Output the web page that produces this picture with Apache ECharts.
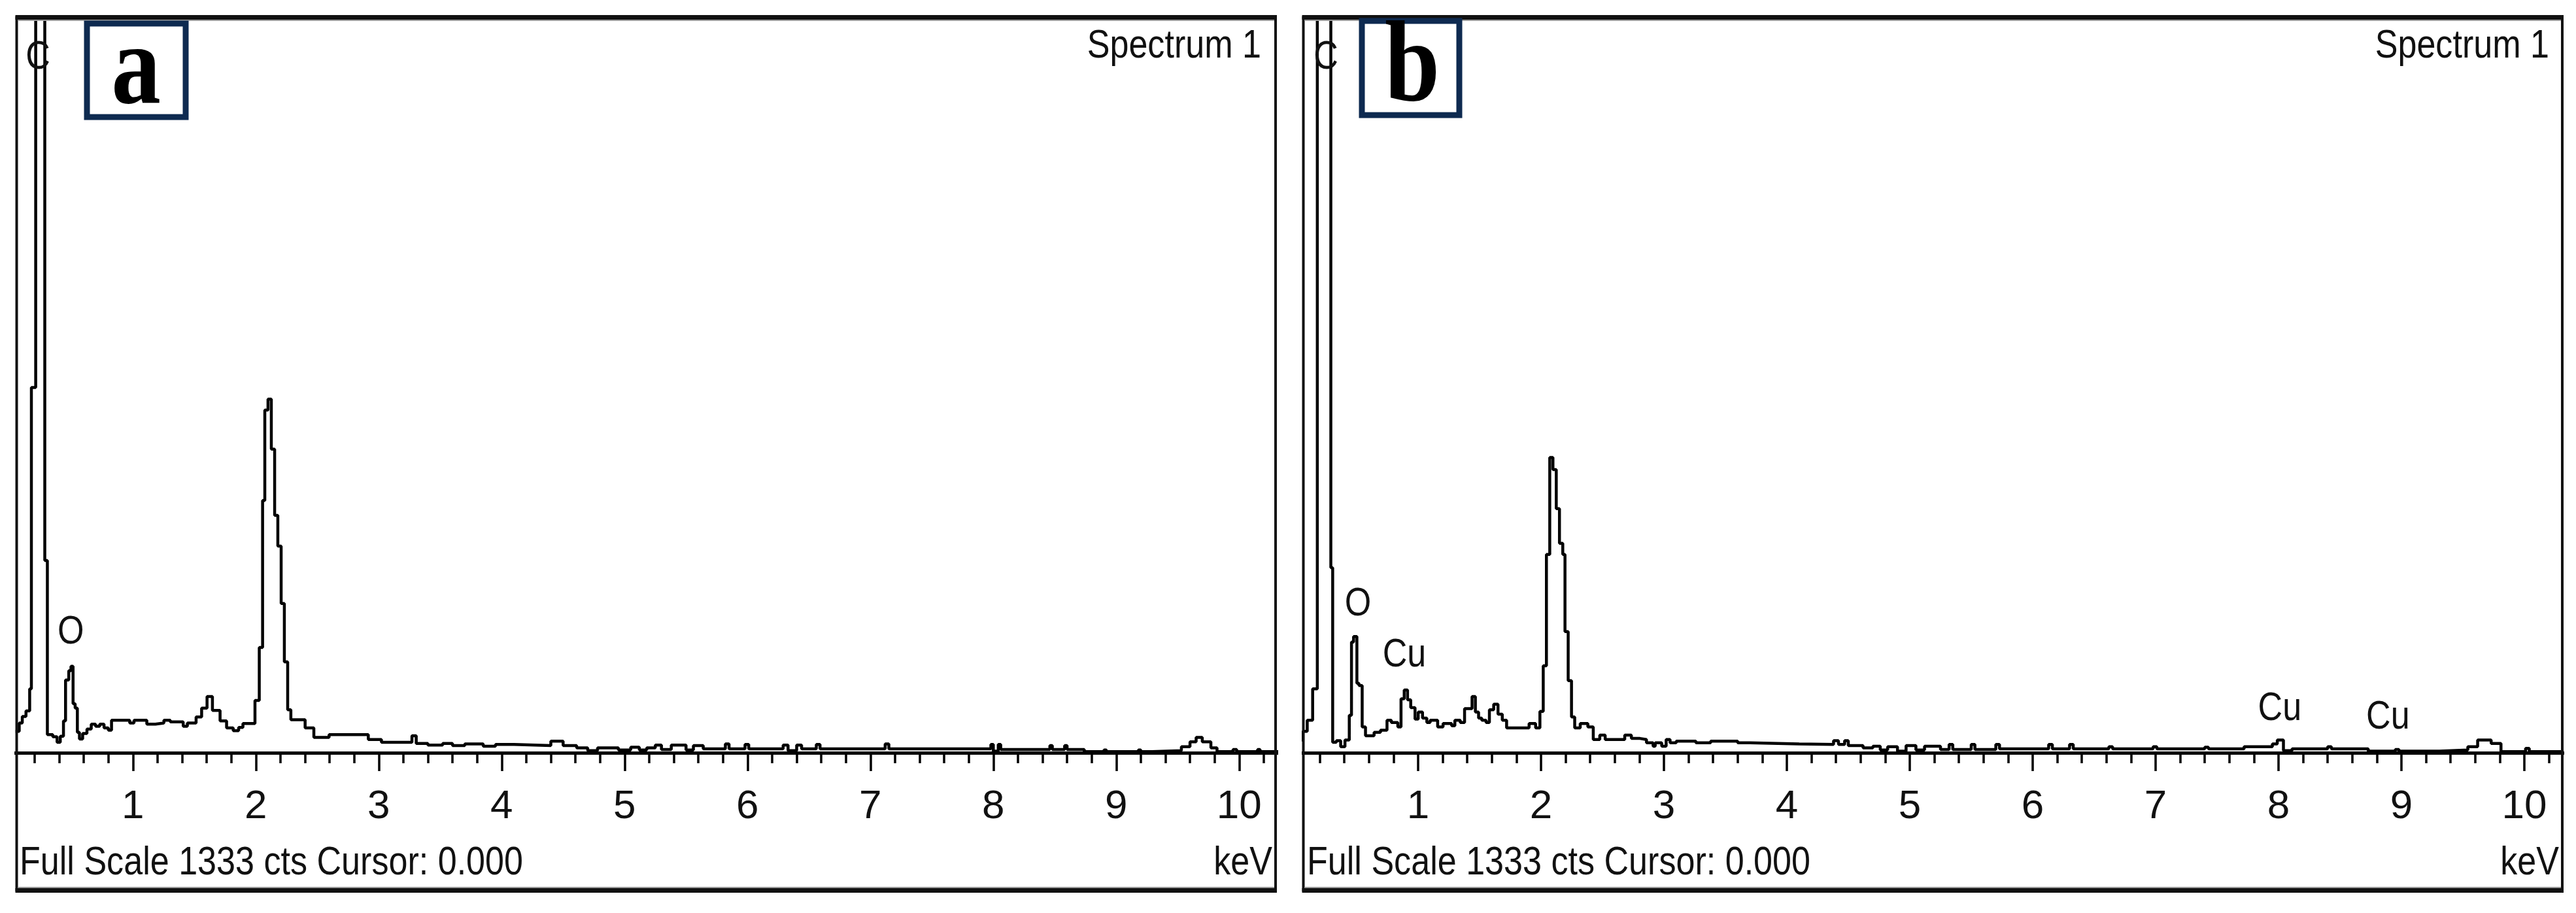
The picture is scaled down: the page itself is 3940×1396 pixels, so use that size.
<!DOCTYPE html>
<html><head><meta charset="utf-8">
<script src="https://cdn.jsdelivr.net/npm/echarts@6/dist/echarts.min.js"></script>
<style>html,body{margin:0;padding:0;background:#fff}#c{width:3940px;height:1396px}</style>
</head><body><div id="c"></div><script>
// ---- data (keV where a level starts, counts of that level) ----
const energyA = [0.045,0.075,0.10,0.13,0.16,0.174,0.209,0.283,0.304,0.348,0.383,0.409,0.435,0.452,0.478,0.496,0.513,0.530,0.548,0.565,0.591,0.626,0.661,0.696,0.730,0.765,0.80,0.826,0.974,1.009,1.113,1.183,1.252,1.304,1.409,1.443,1.514,1.559,1.603,1.647,1.709,1.762,1.816,1.860,1.895,1.993,2.028,2.055,2.073,2.099,2.126,2.153,2.179,2.206,2.232,2.259,2.285,2.401,2.472,2.596,2.915,3.022,3.27,3.305,3.40,3.52,3.60,3.70,3.85,3.95,4.10,4.40,4.50,4.61,4.70,4.78,4.95,5.05,5.12,5.18,5.25,5.30,5.38,5.50,5.56,5.64,5.82,5.85,5.98,6.01,6.29,6.33,6.40,6.44,6.56,6.59,7.12,7.15,7.98,8.0,8.04,8.06,8.46,8.48,8.58,8.60,8.74,8.90,8.92,9.18,9.20,9.29,9.53,9.60,9.65,9.70,9.77,9.82,9.95,9.98,10.15,10.17,10.32];
const countsA = [39,54,66,76,116,663,2600,349,33,29,19,30,58,132,149,157,89,81,37,25,35,43,52,48,52,45,41,59,54,59,52,54,59,56,48,54,65,81,102,77,58,45,40,46,53,95,191,458,622,642,551,431,375,271,165,78,60,45,28,33,24,19,31,17,14,17,13,16,12,15,13,21,13,9,4,9,5,10,5,9,14,6,14,5,13,7,16,7,15,7,14,4,14,7,15,7,16,7,15,3,15,6,13,6,13,6,2,5,2,5,2,4,11,20,28,20,9,2,6,2,6,2,2];

const energyB = [0.045,0.063,0.098,0.142,0.18,0.29,0.305,0.335,0.370,0.405,0.440,0.458,0.475,0.502,0.519,0.545,0.572,0.642,0.694,0.747,0.782,0.835,0.861,0.887,0.914,0.940,0.975,1.001,1.036,1.071,1.098,1.159,1.203,1.273,1.299,1.343,1.378,1.439,1.466,1.492,1.518,1.553,1.580,1.615,1.650,1.685,1.720,1.903,1.956,1.991,2.018,2.044,2.071,2.097,2.124,2.150,2.177,2.195,2.221,2.248,2.274,2.319,2.381,2.425,2.478,2.522,2.681,2.735,2.805,2.858,2.912,2.929,2.982,3.018,3.05,3.10,3.26,3.38,3.60,3.70,4.10,4.38,4.42,4.47,4.50,4.62,4.70,4.76,4.82,4.90,4.97,5.05,5.12,5.25,5.32,5.35,5.50,5.53,5.70,5.73,6.13,6.16,6.30,6.33,6.62,6.65,6.98,7.01,7.40,7.43,7.72,7.95,7.99,8.04,8.11,8.40,8.43,8.73,8.95,8.98,9.31,9.54,9.62,9.73,9.81,10.01,10.04,10.32];
const countsB = [23,39,59,116,2600,336,19,22,11,23,68,201,211,126,122,47,31,37,41,59,55,47,98,114,96,82,61,74,63,55,59,47,53,49,59,55,80,102,74,63,59,55,78,88,70,59,45,53,45,75,158,360,536,514,443,380,360,220,131,65,45,53,47,24,32,24,32,26,24,18,12,18,12,24,18,21,18,21,18,16,15,22,15,22,13,9,12,5,11,3,13,5,12,6,15,6,15,6,15,7,15,7,15,7,11,7,11,7,10,7,11,16,23,4,7,11,7,3,6,3,5,11,23,17,2,8,2,2];

const tickLabelValues = [1,2,3,4,5,6,7,8,9,10];
const fullScale = 1333;
const labelsA = [{t:'C',x:0.227,y:1262},{t:'O',x:0.494,y:218}];
const labelsB = [{t:'C',x:0.25,y:1262},{t:'O',x:0.51,y:270},{t:'Cu',x:0.888,y:177},{t:'Cu',x:8.01,y:80},{t:'Cu',x:8.89,y:64}];
const panelLetters = ['a','b'];
const spectrumName = 'Spectrum 1';
const footerText = 'Full Scale 1333 cts Cursor: 0.000';
const unitText = 'keV';

// ---- chart ----
const NARROW = "'Liberation Sans Narrow','Arial Narrow','Liberation Sans',Arial,sans-serif";
const SANS = "'Liberation Sans',Arial,sans-serif";
const chart = echarts.init(document.getElementById('c'), null, {renderer:'canvas'});
const toPairs = (e,c) => e.map((v,i)=>[v,c[i]]);

function majorAxis(g){return {type:'value',gridIndex:g,position:'bottom',min:0,max:10.4,interval:1,
  axisLine:{show:true,onZero:false,lineStyle:{color:'#000',width:5}},
  axisTick:{show:true,length:28,lineStyle:{color:'#000',width:3.5}},
  axisLabel:{show:true,margin:52,fontSize:62,fontFamily:NARROW,color:'#111',lineHeight:62,
    formatter:v=>tickLabelValues.includes(Math.round(v*1000)/1000)?String(Math.round(v)):''},
  splitLine:{show:false}};}
function minorAxis(g){return {type:'value',gridIndex:g,position:'bottom',min:0,max:10.4,interval:0.2,
  axisLine:{show:false},axisTick:{show:true,length:16,lineStyle:{color:'#000',width:3.5}},
  axisLabel:{show:false},splitLine:{show:false}};}
function yAx(g){return {type:'value',gridIndex:g,min:0,max:fullScale,show:false};}
function line(xi,yi,data){return {type:'line',xAxisIndex:xi,yAxisIndex:yi,step:'end',data:data,
  symbol:'none',showSymbol:false,silent:true,clip:true,lineStyle:{color:'#000',width:4.5},z:3};}

chart.setOption({
  animation:false,
  backgroundColor:'#fff',
  grid:[{left:15.3,top:28,width:1955.2,height:1123},{left:1981,top:28,width:1955.2,height:1123}],
  xAxis:[majorAxis(0),minorAxis(0),majorAxis(1),minorAxis(1)],
  yAxis:[yAx(0),yAx(1)],
  series:[line(0,0,toPairs(energyA,countsA)),line(2,1,toPairs(energyB,countsB))]
});

// ---- decorations ----
const els = [];
[[0,22],[1955,36],[3922,18]].forEach(r=>els.push({type:'rect',z:100,shape:{x:r[0],y:0,width:r[1],height:1396},style:{fill:'#fff'}}));
const frames = [{l:23.5,r:1953},{l:1991.5,r:3921}];
frames.forEach(f=>{
  els.push({type:'rect',z:110,shape:{x:f.l+2,y:27,width:f.r-f.l-4,height:1334},style:{fill:null,stroke:'#111',lineWidth:4}});
  els.push({type:'rect',z:111,shape:{x:f.l,y:23,width:f.r-f.l,height:7},style:{fill:'#111'}});
  els.push({type:'rect',z:111,shape:{x:f.l+4,y:30,width:f.r-f.l-8,height:2},style:{fill:'#9a9a9a'}});
  els.push({type:'rect',z:111,shape:{x:f.l,y:1358,width:f.r-f.l,height:7},style:{fill:'#111'}});
  els.push({type:'rect',z:111,shape:{x:f.l+4,y:1356,width:f.r-f.l-8,height:2},style:{fill:'#9a9a9a'}});
});
function txt(s,x,y,align,opts){opts=opts||{};
  els.push({type:'text',z:120,x:x,y:y,scaleX:opts.sx||0.84,
    style:{text:s,x:0,y:0,align:align,verticalAlign:'middle',fontSize:opts.fs||62,fontFamily:opts.ff||SANS,
      fontWeight:opts.fw||'normal',fill:opts.fill||'#111'}});}
txt(spectrumName,1929,71,'right'); txt(spectrumName,3899,71,'right');
txt(footerText,30,1320,'left'); txt(footerText,1999,1320,'left');
txt(unitText,1946,1320,'right'); txt(unitText,3914,1320,'right');
const boxes=[{x:133,y:36,w:151,h:143,cx:208},{x:2083,y:32,w:149,h:144,cx:2160}];
boxes.forEach((b,i)=>{
  els.push({type:'rect',z:115,shape:{x:b.x,y:b.y,width:b.w,height:b.h},style:{fill:'#fff',stroke:'#0e2a50',lineWidth:9}});
  els.push({type:'text',z:121,x:b.cx,y:b.y+b.h/2+4,scaleX:0.86,
    style:{text:panelLetters[i],x:0,y:0,align:'center',verticalAlign:'middle',fontSize:176,fontWeight:'bold',
      fontFamily:"'Liberation Serif','Times New Roman',serif",fill:'#000'}});
});
[[labelsA,0,0],[labelsB,2,1]].forEach(([arr,xi,yi])=>{
  arr.forEach(l=>{const p=chart.convertToPixel({xAxisIndex:xi,yAxisIndex:yi},[l.x,l.y]);
    txt(l.t,p[0],p[1],'center');});
});
chart.setOption({graphic:{elements:els}});
</script></body></html>
